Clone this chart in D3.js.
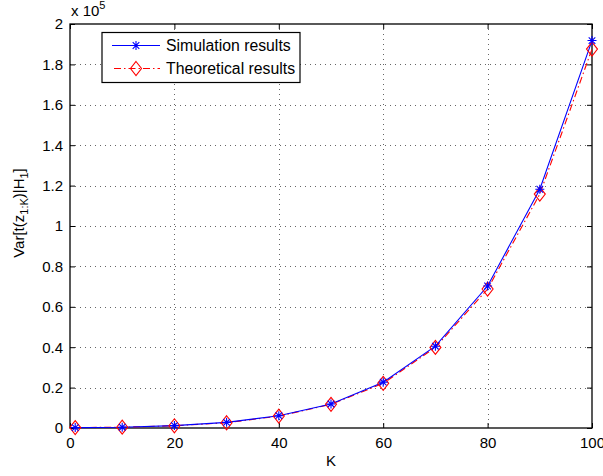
<!DOCTYPE html>
<html><head><meta charset="utf-8">
<script src="https://cdn.jsdelivr.net/npm/d3@7"></script>
<style>
body{margin:0;background:#fff;}
text{font-family:"Liberation Sans",Arial,Helvetica,sans-serif;}
</style></head>
<body>
<svg id="chart" width="603" height="476"></svg>
<script>
const kValues = [1, 10, 20, 30, 40, 50, 60, 70, 80, 90, 100];
const simulation = [200, 400, 1200, 2800, 6100, 11900, 22700, 40500, 70300, 118200, 191800];
const theoretical = [200, 400, 1100, 2600, 5900, 11700, 22100, 39900, 68800, 115800, 187600];
const xTicks = [0, 20, 40, 60, 80, 100];
const yTicks = [0, 0.2e5, 0.4e5, 0.6e5, 0.8e5, 1e5, 1.2e5, 1.4e5, 1.6e5, 1.8e5, 2e5];
const legendLabels = ["Simulation results", "Theoretical results"];

const svg = d3.select("#chart");
const L = 70, R = 592, T = 24, B = 428;
const FS = 15;
const x = d3.scaleLinear().domain([0, 100]).range([L, R]);
const y = d3.scaleLinear().domain([0, 2e5]).range([B, T]);
const fmtY = v => { const s = d3.format(".1f")(v / 1e5); return s.replace(/\.0$/, ""); };

svg.append("rect").attr("width", 603).attr("height", 476).attr("fill", "#fff");

// grid
const grid = svg.append("g").attr("stroke", "#333").attr("stroke-width", 1).attr("stroke-dasharray", "1,4").attr("opacity", 0.75);
xTicks.slice(1, -1).forEach(t => grid.append("line").attr("x1", Math.round(x(t)) + 0.5).attr("x2", Math.round(x(t)) + 0.5).attr("y1", T).attr("y2", B));
yTicks.slice(1, -1).forEach(t => grid.append("line").attr("y1", Math.round(y(t)) + 0.5).attr("y2", Math.round(y(t)) + 0.5).attr("x1", L).attr("x2", R));

// axes with inward ticks
const tl = 5;
const xAxisB = d3.axisBottom(x).tickValues(xTicks).tickSizeInner(-tl).tickSizeOuter(0).tickPadding(9);
const xAxisT = d3.axisTop(x).tickValues(xTicks).tickSizeInner(-tl).tickSizeOuter(0).tickFormat("");
const yAxisL = d3.axisLeft(y).tickValues(yTicks).tickSizeInner(-tl).tickSizeOuter(0).tickPadding(7).tickFormat(fmtY);
const yAxisR = d3.axisRight(y).tickValues(yTicks).tickSizeInner(-tl).tickSizeOuter(0).tickFormat("");
function style(g) {
  g.select(".domain").remove();
  g.selectAll("line").attr("stroke", "#000");
  g.selectAll("text").attr("font-size", FS).attr("fill", "#000").attr("font-family", "Liberation Sans, Arial, sans-serif");
}
svg.append("g").attr("transform", `translate(0,${B})`).call(xAxisB).call(style);
svg.append("g").attr("transform", `translate(0,${T})`).call(xAxisT).call(style);
svg.append("g").attr("transform", `translate(${L},0)`).call(yAxisL).call(style);
svg.append("g").attr("transform", `translate(${R},0)`).call(yAxisR).call(style);

svg.append("rect").attr("x", L).attr("y", T).attr("width", R - L).attr("height", B - T)
  .attr("fill", "none").attr("stroke", "#000").attr("stroke-width", 1.3);

// exponent label
const ex = svg.append("text").attr("x", 71).attr("y", 16).attr("font-size", FS).attr("fill", "#000");
ex.append("tspan").text("x 10");
ex.append("tspan").attr("font-size", 11).attr("dy", -7).text("5");

// lines
const lineGen = (vals) => d3.line().x((d, i) => x(kValues[i])).y(d => y(d))(vals);
svg.append("path").attr("d", lineGen(theoretical)).attr("fill", "none").attr("stroke", "#ff0000")
  .attr("stroke-width", 1.1).attr("stroke-dasharray", "7,3,1.5,3");
svg.append("path").attr("d", lineGen(simulation)).attr("fill", "none").attr("stroke", "#0000ff").attr("stroke-width", 1.1);

// markers
function diamond(g, cx, cy) {
  g.append("path").attr("d", `M${cx},${cy - 7}L${cx + 5.5},${cy}L${cx},${cy + 7}L${cx - 5.5},${cy}Z`)
    .attr("fill", "none").attr("stroke", "#ff0000").attr("stroke-width", 1.1);
}
function star(g, cx, cy) {
  const r = 4.5, d = 3.3;
  g.append("path").attr("d", `M${cx - r},${cy}H${cx + r}M${cx},${cy - r}V${cy + r}M${cx - d},${cy - d}L${cx + d},${cy + d}M${cx - d},${cy + d}L${cx + d},${cy - d}`)
    .attr("stroke", "#0000ff").attr("stroke-width", 1.1).attr("fill", "none");
}
const mk = svg.append("g");
theoretical.forEach((v, i) => diamond(mk, x(kValues[i]), y(v)));
simulation.forEach((v, i) => star(mk, x(kValues[i]), y(v)));

// legend
const lg = svg.append("g");
lg.append("rect").attr("x", 102).attr("y", 32.5).attr("width", 198).attr("height", 50)
  .attr("fill", "#fff").attr("stroke", "#000").attr("stroke-width", 1.2);
lg.append("line").attr("x1", 112).attr("x2", 160).attr("y1", 45.5).attr("y2", 45.5).attr("stroke", "#0000ff");
star(lg, 136, 45.5);
lg.append("line").attr("x1", 112).attr("x2", 160).attr("y1", 68.5).attr("y2", 68.5).attr("stroke", "#ff0000").attr("stroke-dasharray", "7,3,1.5,3").attr("stroke-dashoffset", -2);
diamond(lg, 136, 68.5);
lg.append("text").attr("x", 166).attr("y", 51).attr("font-size", 15.8).attr("fill", "#000").text(legendLabels[0]);
lg.append("text").attr("x", 166).attr("y", 74).attr("font-size", 15.8).attr("fill", "#000").text(legendLabels[1]);

// axis labels
svg.append("text").attr("x", 331).attr("y", 466).attr("text-anchor", "middle").attr("font-size", FS).attr("fill", "#000").text("K");
const yl = svg.append("text").attr("transform", "translate(24,213) rotate(-90)").attr("text-anchor", "middle").attr("font-size", FS).attr("fill", "#000");
yl.append("tspan").text("Var[t(z");
yl.append("tspan").attr("font-size", 11).attr("dy", 4).text("1:K");
yl.append("tspan").attr("dy", -4).text(")|H");
yl.append("tspan").attr("font-size", 11).attr("dy", 4).text("1");
yl.append("tspan").attr("dy", -4).text("]");
</script>
</body></html>
